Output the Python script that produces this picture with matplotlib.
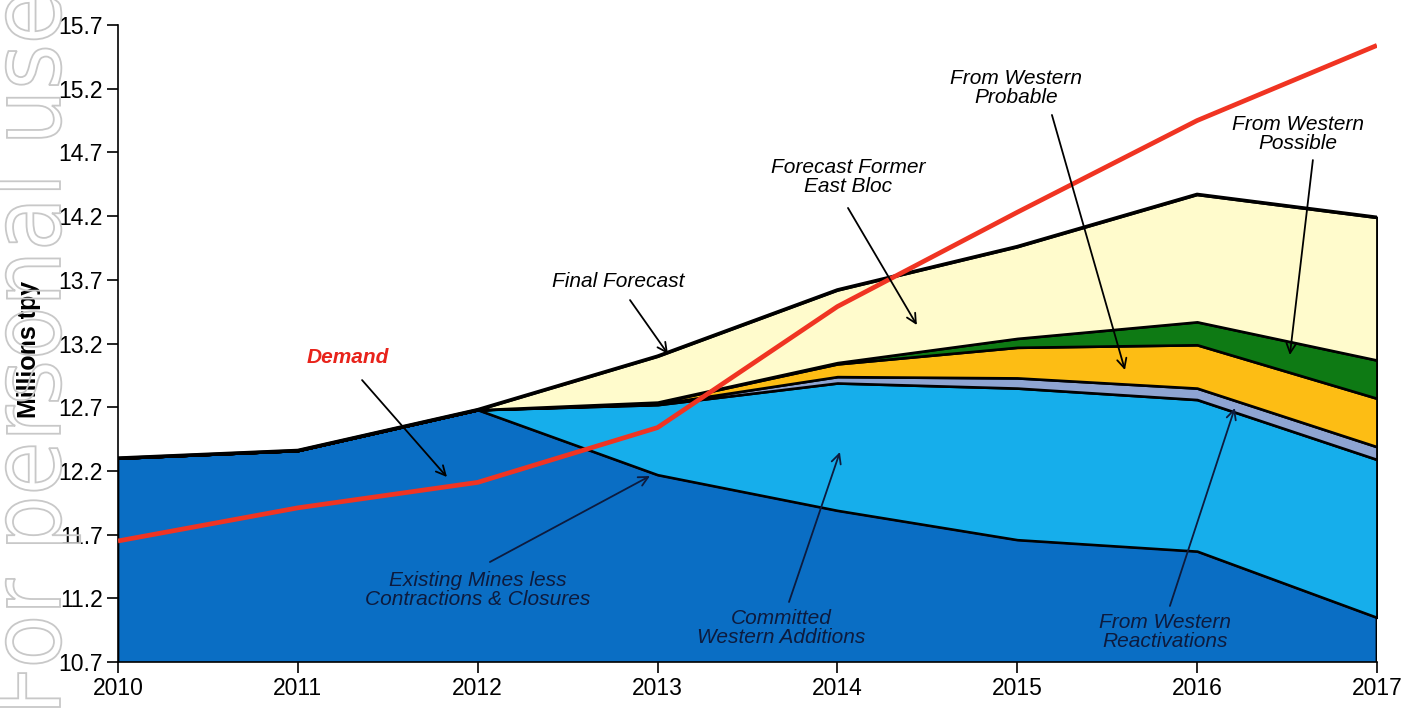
import matplotlib
matplotlib.use("Agg")
import matplotlib.pyplot as plt
from matplotlib.textpath import TextPath
from matplotlib.patches import PathPatch
from matplotlib.font_manager import FontProperties
from matplotlib.transforms import Affine2D

plt.rcParams['font.family'] = ['Liberation Sans', 'DejaVu Sans']

# supply by source, million tonnes per year (layer increments, bottom to top)
years = [2010, 2011, 2012, 2013, 2014, 2015, 2016, 2017]
existing_mines = [12.30, 12.36, 12.68, 12.17, 11.89, 11.66, 11.57, 11.05]
committed_western = [0.0, 0.0, 0.0, 0.55, 1.00, 1.19, 1.19, 1.24]
western_reactivations = [0.0, 0.0, 0.0, 0.005, 0.05, 0.08, 0.09, 0.10]
western_probable = [0.0, 0.0, 0.0, 0.01, 0.10, 0.24, 0.34, 0.38]
western_possible = [0.0, 0.0, 0.0, 0.005, 0.01, 0.07, 0.18, 0.30]
former_east_bloc = [0.0, 0.0, 0.0, 0.36, 0.57, 0.72, 1.00, 1.12]
demand = [11.65, 11.91, 12.11, 12.54, 13.49, 14.23, 14.95, 15.54]

y_ticks = [10.7, 11.2, 11.7, 12.2, 12.7, 13.2, 13.7, 14.2, 14.7, 15.2, 15.7]

layer_colors = ['#0a6ec4', '#16aeeb', '#8ea4d2', '#fdbd14', '#0e7a14', '#fffbcc']

fig = plt.figure(figsize=(14.05, 7.09), dpi=100)
ax = fig.add_axes([0.084, 0.0663, 0.896, 0.8984])

ax.stackplot(years, existing_mines, committed_western, western_reactivations,
             western_probable, western_possible, former_east_bloc,
             colors=layer_colors, edgecolor='black', linewidth=1.9, zorder=2)

# outline of the total forecast
total = [sum(v) for v in zip(existing_mines, committed_western, western_reactivations,
                             western_probable, western_possible, former_east_bloc)]
ax.plot(years, total, color='black', lw=2.6, zorder=3)

ax.plot(years, demand, color='#f03422', lw=3.4, zorder=4, solid_capstyle='butt')

ax.set_xlim(2010, 2017)
ax.set_ylim(10.7, 15.7)
ax.set_xticks(years)
ax.set_yticks(y_ticks)
ax.set_yticklabels([f'{v:.1f}' for v in y_ticks])
ax.tick_params(axis='both', direction='out', length=8, width=1.2, labelsize=16.5, pad=3)
ax.spines['top'].set_visible(False)
ax.spines['right'].set_visible(False)
ax.spines['left'].set_linewidth(1.2)
ax.spines['bottom'].set_linewidth(1.2)
ax.set_ylabel('Millions tpy', fontsize=18, fontweight='bold')
ax.yaxis.set_label_coords(-0.061, 0.49)

navy = '#0d1b3e'
labels = [
    ('Demand', (2011.279, 13.094), (2011.357, 12.913), (2011.829, 12.152), '#e8231b', 'bold'),
    ('Final Forecast', (2012.780, 13.690), (2012.847, 13.541), (2013.058, 13.118), 'black', 'normal'),
    ('Forecast Former\nEast Bloc', (2014.059, 14.507), (2014.059, 14.264), (2014.442, 13.345), 'black', 'normal'),
    ('From Western\nProbable', (2014.993, 15.205), (2015.193, 14.994), (2015.599, 12.992), 'black', 'normal'),
    ('From Western\nPossible', (2016.561, 14.844), (2016.644, 14.640), (2016.516, 13.110), 'black', 'normal'),
    ('Existing Mines less\nContractions & Closures', (2012.002, 11.265), (2012.068, 11.485), (2012.958, 12.160), navy, 'normal'),
    ('Committed\nWestern Additions', (2013.686, 10.967), (2013.731, 11.171), (2014.014, 12.348), navy, 'normal'),
    ('From Western\nReactivations', (2015.821, 10.936), (2015.849, 11.140), (2016.210, 12.694), navy, 'normal'),
]
for text, pos, start, tip, color, weight in labels:
    ax.text(pos[0], pos[1], text, ha='center', va='center', fontsize=15, style='italic',
            color=color, fontweight=weight, linespacing=1.0, zorder=6)
    arrow_color = navy if color == navy else 'black'
    ax.annotate('', xy=tip, xytext=start,
                arrowprops=dict(arrowstyle='->', color=arrow_color, lw=1.3,
                                mutation_scale=17, shrinkA=0, shrinkB=0), zorder=6)

# outlined watermark running up the left margin (laid out in pixels)
mark = TextPath((0, 0), 'For personal use', size=100,
                prop=FontProperties(family='DejaVu Sans'))
mark_len = mark.get_extents().width
mark_tf = (Affine2D().translate(-mark.get_extents().x0, 0)
           .scale(712 / mark_len, 0.97).rotate_deg(90).translate(60, 2))
fig.patches.append(PathPatch(mark_tf.transform_path(mark), facecolor='none',
                             edgecolor='#c8c8c8', lw=1.3, transform=None, zorder=0))

fig.savefig('out.png', dpi=100)
